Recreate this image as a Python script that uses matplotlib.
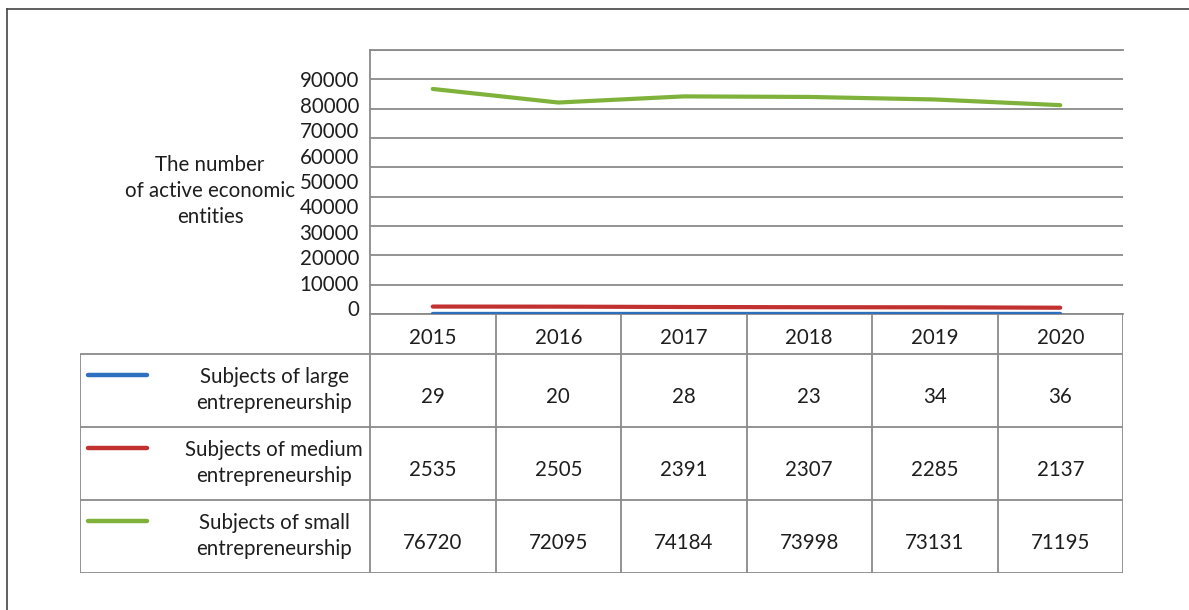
import matplotlib
matplotlib.use("Agg")
from matplotlib import pyplot as plt
import numpy as np

years = ["2015", "2016", "2017", "2018", "2019", "2020"]
large = [29, 20, 28, 23, 34, 36]
medium = [2535, 2505, 2391, 2307, 2285, 2137]
small = [76720, 72095, 74184, 73998, 73131, 71195]
names = ["Subjects of large\nentrepreneurship",
         "Subjects of medium\nentrepreneurship",
         "Subjects of small\nentrepreneurship"]
colors = ["#2f6fbf", "#c0312f", "#7fb23b"]
y_ticks = list(range(0, 100000, 10000))
y_title = "The number\nof active economic\nentities"

W, H = 1189, 610
grid_col = "#8a8a8a"
txt_col = "#1e1e1e"
fs = 14.8


def box(l, t, r, b):
    # pixel box -> figure fraction
    return [l / W, 1 - b / H, (r - l) / W, (b - t) / H]


plt.rcParams['font.family'] = ['Lato', 'DejaVu Sans']
fig = plt.figure(figsize=(W / 100, H / 100), dpi=100)

# frame of the picture (top and left only)
fig.add_artist(plt.Line2D([7 / W, 1], [1 - 9 / H, 1 - 9 / H], color="#444444", lw=1.2))
fig.add_artist(plt.Line2D([7 / W, 7 / W], [0, 1 - 9 / H], color="#444444", lw=1.2))

# line chart
ax = fig.add_axes(box(370, 50, 1123, 314))
x = np.arange(len(years))
for vals, c in zip([large, medium, small], colors):
    ax.plot(x, vals, color=c, lw=3, solid_capstyle='round', zorder=3)
ax.set_xlim(-0.5, len(years) - 0.5)
ax.set_ylim(0, 90000)
ax.set_yticks(y_ticks)
ax.yaxis.grid(True, color=grid_col, lw=1.3)
ax.set_xticks([])
ax.tick_params(axis='y', length=0, labelleft=False)
ax.spines['right'].set_visible(False)
for s in ['left', 'top', 'bottom']:
    ax.spines[s].set_color(grid_col)
    ax.spines[s].set_linewidth(1.3)

# tick labels sit a bit off the gridlines in the original
ax2 = ax.twinx()
ax2.set_ylim(-2360, 101600)
ax2.set_yticks(y_ticks)
ax2.yaxis.tick_left()
ax2.tick_params(length=0, pad=8, labelsize=fs, colors=txt_col)
for s in ax2.spines.values():
    s.set_visible(False)

fig.text(210 / W, 1 - 191 / H, y_title, ha='center', va='center',
         fontsize=fs, color=txt_col, linespacing=1.36)

# data table
cell = 753 / len(years)
tab = fig.add_axes(box(80, 314, 1123, 573))
xmin = -0.5 - 290 / cell
tab.set_xlim(xmin, len(years) - 0.5)
tab.set_ylim(259, 0)
tab.axis('off')


def u(px):
    return xmin + (px - 80) / cell


head_h, row_h = 40, 73
lkw = dict(color=grid_col, lw=1.3, solid_capstyle='butt')
for i in range(len(years) + 1):
    tab.plot([i - 0.5, i - 0.5], [0, head_h + 3 * row_h], **lkw)
tab.plot([xmin, xmin], [head_h, head_h + 3 * row_h], **lkw)
for k in range(4):
    yy = head_h + k * row_h
    tab.plot([xmin, len(years) - 0.5], [yy, yy], **lkw)

for i, yr in enumerate(years):
    tab.text(i, 24, yr, ha='center', va='center', fontsize=fs, color=txt_col)

for k, (vals, c, nm) in enumerate(zip([large, medium, small], colors, names)):
    top = head_h + k * row_h
    tab.plot([u(88), u(147)], [top + 21, top + 21], color=c, lw=3.2,
             solid_capstyle='round')
    tab.text(u(274), top + 36, nm, ha='center', va='center', fontsize=fs,
             color=txt_col, linespacing=1.36)
    for i, v in enumerate(vals):
        tab.text(i, top + 43, str(v), ha='center', va='center', fontsize=fs,
                 color=txt_col)

fig.savefig("out.png", dpi=100)
